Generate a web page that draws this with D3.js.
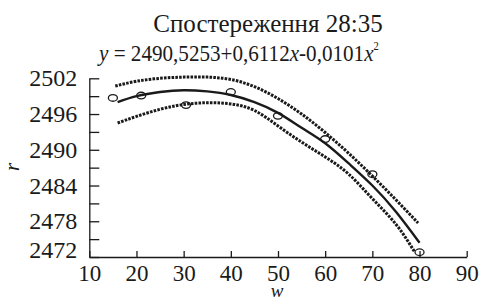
<!DOCTYPE html>
<html>
<head>
<meta charset="utf-8">
<script src="https://cdn.jsdelivr.net/npm/d3@7"></script>
</head>
<body style="margin:0; background:#fff">
<div id="chart"></div>
<script>
// observed points (open circles)
var obsW = [15, 21, 30.5, 40, 50, 60, 70, 80];
var obsR = [2498.7, 2499.1, 2497.5, 2499.7, 2495.7, 2491.8, 2485.9, 2472.8];

// fitted curve
var fitW = [16, 20, 25, 30, 35, 40, 45, 50, 55, 60, 65, 70, 75, 80];
var fitR = [2498.0, 2499.0, 2499.7, 2500.0, 2499.8, 2499.2, 2498.0, 2496.2, 2493.7, 2491.1, 2487.7, 2484.0, 2479.6, 2474.4];

// confidence band (dotted)
var upW = [15.5, 20, 25, 30, 35, 40, 45, 50, 55, 60, 65, 70, 75, 79.7];
var upR = [2500.7, 2501.5, 2502.0, 2502.2, 2502.2, 2501.8, 2500.6, 2498.6, 2496.0, 2492.9, 2489.4, 2485.6, 2481.6, 2477.7];
var loW = [16, 20, 25, 30, 35, 40, 45, 50, 55, 60, 65, 70, 75, 79];
var loR = [2494.5, 2495.6, 2496.8, 2497.6, 2497.9, 2497.7, 2496.6, 2494.0, 2491.3, 2488.8, 2485.9, 2481.8, 2477.5, 2472.8];

var xTicks = [10, 20, 30, 40, 50, 60, 70, 80, 90];
var yTicks = [2472, 2475, 2478, 2481, 2484, 2487, 2490, 2493, 2496, 2499, 2502];

var svgWidth = 484;
var svgHeight = 302;
var serif = "'Liberation Serif', monospace";
var ink = "#1a1a1a";

function setFont(sel, size) {
  return sel.style("font-family", serif).style("font-size", size + "px").attr("fill", ink);
}

var svg = d3.select("#chart")
  .append("svg")
  .attr("width", svgWidth)
  .attr("height", svgHeight);

var x = d3.scaleLinear().domain([10, 90]).range([89.3, 466.7]);
var y = d3.scaleLinear().domain([2472, 2502]).range([257, 78.3]);

// title
setFont(svg.append("text"), 25)
  .attr("x", 268)
  .attr("y", 31.5)
  .attr("text-anchor", "middle")
  .text("Спостереження 28:35");

var eq = setFont(svg.append("text"), 24)
  .attr("transform", "translate(99,61) scale(0.88,1)");
eq.append("tspan").style("font-style", "italic").text("y");
eq.append("tspan").text(" = 2490,5253+0,6112");
eq.append("tspan").style("font-style", "italic").text("x");
eq.append("tspan").text("-0,0101");
eq.append("tspan").style("font-style", "italic").text("x");
eq.append("tspan").style("font-size", "12px").attr("dy", -11).text("2");

// axes
var xAxis = svg.append("g")
  .attr("transform", "translate(0," + y.range()[0] + ")")
  .call(d3.axisBottom(x).tickValues(xTicks).tickSize(-6).tickSizeOuter(0).tickPadding(7.4));
setFont(xAxis.selectAll("text"), 23);

var yAxis = svg.append("g")
  .attr("transform", "translate(" + x.range()[0] + ",0)")
  .call(d3.axisLeft(y).tickValues(yTicks).tickSize(-10).tickSizeOuter(0).tickPadding(12)
    .tickFormat(d => (d - 2472) % 6 === 0 ? d : ""));
setFont(yAxis.selectAll("text"), 24)
  .attr("dy", d => d === 2472 ? "0em" : "0.32em");

svg.selectAll(".domain, .tick line")
  .attr("stroke", ink)
  .attr("stroke-width", 1.3);

// axis titles
setFont(svg.append("text"), 19)
  .attr("x", 277)
  .attr("y", 297)
  .attr("text-anchor", "middle")
  .style("font-style", "italic")
  .text("w");

setFont(svg.append("text"), 21)
  .attr("transform", "translate(19,167) rotate(-90)")
  .attr("text-anchor", "middle")
  .style("font-style", "italic")
  .text("r");

var line = d3.line()
  .x(d => x(d[0]))
  .y(d => y(d[1]))
  .curve(d3.curveNatural);

[d3.zip(upW, upR), d3.zip(loW, loR)].forEach(function(band) {
  svg.append("path")
    .datum(band)
    .attr("fill", "none")
    .attr("stroke", ink)
    .attr("stroke-width", 3)
    .attr("stroke-dasharray", "2.6,1.2")
    .attr("d", line);
});

svg.append("path")
  .datum(d3.zip(fitW, fitR))
  .attr("fill", "none")
  .attr("stroke", ink)
  .attr("stroke-width", 2.4)
  .attr("d", line);

svg.selectAll(".obs")
  .data(d3.zip(obsW, obsR))
  .enter()
  .append("ellipse")
  .attr("class", "obs")
  .attr("cx", d => x(d[0]))
  .attr("cy", d => y(d[1]))
  .attr("rx", 4.5)
  .attr("ry", 3.3)
  .attr("fill", "none")
  .attr("stroke", ink)
  .attr("stroke-width", 1.3);
</script>
</body>
</html>
